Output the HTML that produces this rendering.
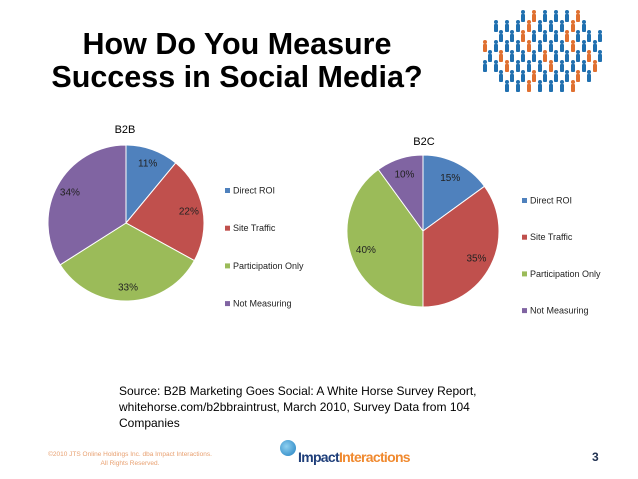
<!DOCTYPE html>
<html><head><meta charset="utf-8">
<style>
body{margin:0;background:#fff;width:638px;height:479px;overflow:hidden;position:relative;font-family:"Liberation Sans",sans-serif}
.t{position:absolute}
</style></head><body>
<div class="t" style="left:20px;top:28px;width:434px;text-align:center;font-weight:bold;font-size:30.5px;line-height:33px;color:#000;white-space:nowrap">How Do You Measure<br>Success in Social Media?</div>
<svg id="crowd" class="t" style="left:470px;top:0" width="150" height="120"></svg>
<svg id="chart" class="t" style="left:0;top:0" width="638" height="479"></svg>
<div class="t" style="left:119px;top:383px;font-size:12px;line-height:16px;color:#000">Source: B2B Marketing Goes Social: A White Horse Survey Report,<br>whitehorse.com/b2bbraintrust, March 2010, Survey Data from 104<br>Companies</div>
<div class="t" style="left:30px;top:450px;width:200px;text-align:center;font-size:6.5px;line-height:9px;color:#e8a070">©2010 JTS Online Holdings Inc. dba Impact Interactions.<br>All Rights Reserved.</div>
<div class="t" style="left:280px;top:440px;width:135px;height:28px">
<div style="position:absolute;left:0;top:0;width:16px;height:16px;border-radius:50%;background:radial-gradient(circle at 40% 40%,#8fd0f0,#1f7fc0)"></div>
<div style="position:absolute;left:18px;top:9px;font-size:14px;font-weight:bold;letter-spacing:-0.7px;white-space:nowrap"><span style="color:#1f3f7a">Impact</span><span style="color:#f08a30">Interactions</span></div></div>
<div class="t" style="left:592px;top:450px;font-size:12px;font-weight:bold;color:#1f3050">3</div>
<script>
const categories=["Direct ROI","Site Traffic","Participation Only","Not Measuring"];
const b2bValues=[11,22,33,34];
const b2cValues=[15,35,40,10];
const colors=["#4f81bd","#c0504d","#9bbb59","#8064a2"];
const NS="http://www.w3.org/2000/svg";
const svg=document.getElementById('chart');
function mk(tag,attrs,parent){const e=document.createElementNS(NS,tag);for(const k in attrs)e.setAttribute(k,attrs[k]);(parent||svg).appendChild(e);return e;}
function pie(name,values,cx,cy,r,lr,title,tx,ty,lx,ly,lgap){
  const g=mk('g',{});
  
  
  const tt=mk('text',{x:tx,y:ty,'font-size':11,'text-anchor':'middle',fill:'#000'},g);tt.textContent=title;
  
  
  const total=values.reduce((a,b)=>a+b,0);let acc=0;
  values.forEach((v,i)=>{
    const a0=acc/total*2*Math.PI,a1=(acc+v)/total*2*Math.PI,am=(a0+a1)/2;acc+=v;
    const x0=cx+r*Math.sin(a0),y0=cy-r*Math.cos(a0),x1=cx+r*Math.sin(a1),y1=cy-r*Math.cos(a1);
    const p=mk('path',{d:`M${cx},${cy}L${x0},${y0}A${r},${r} 0 ${a1-a0>Math.PI?1:0} 1 ${x1},${y1}Z`,fill:colors[i],stroke:'#fff','stroke-width':1},g);
    
    
    const t=mk('text',{x:cx+lr*Math.sin(am),y:cy-lr*Math.cos(am)+3.5,'font-size':10,'text-anchor':'middle',fill:'#222'},g);
    t.textContent=v+'%';
    
    
    const lg=mk('g',{},g);
    
    
    mk('rect',{x:lx,y:ly+i*lgap-3,width:5,height:5,fill:colors[i]},lg);
    const lt=mk('text',{x:lx+8,y:ly+i*lgap+2.5,'font-size':9,fill:'#222'},lg);lt.textContent=categories[i];
  });
}
pie('b2b-pie',b2bValues,126,223,78,64,'B2B',125,133,225,191,37.7);
pie('b2c-pie',b2cValues,423,231,76,60,'B2C',424,145,522,201,36.7);
// decorative crowd
const cs=document.getElementById('crowd');
let k=0;
for(let y=16;y<=92;y+=10){for(let x=12;x<=128;x+=11){
  const dx=(x-68)/60,dy=(y-52)/43; if(dx*dx+dy*dy>1)continue;
  const xx=x+((y/10)%2)*5;k++;
  const c=(k%4==2)?'#e07030':'#2070b0';
  const f=document.createElementNS(NS,'g');
  f.innerHTML=`<circle cx="${xx}" cy="${y-4}" r="2" fill="${c}"/><rect x="${xx-2}" y="${y-2}" width="4" height="8" rx="1" fill="${c}"/>`;
  cs.appendChild(f);
}}
</script>
</body></html>
